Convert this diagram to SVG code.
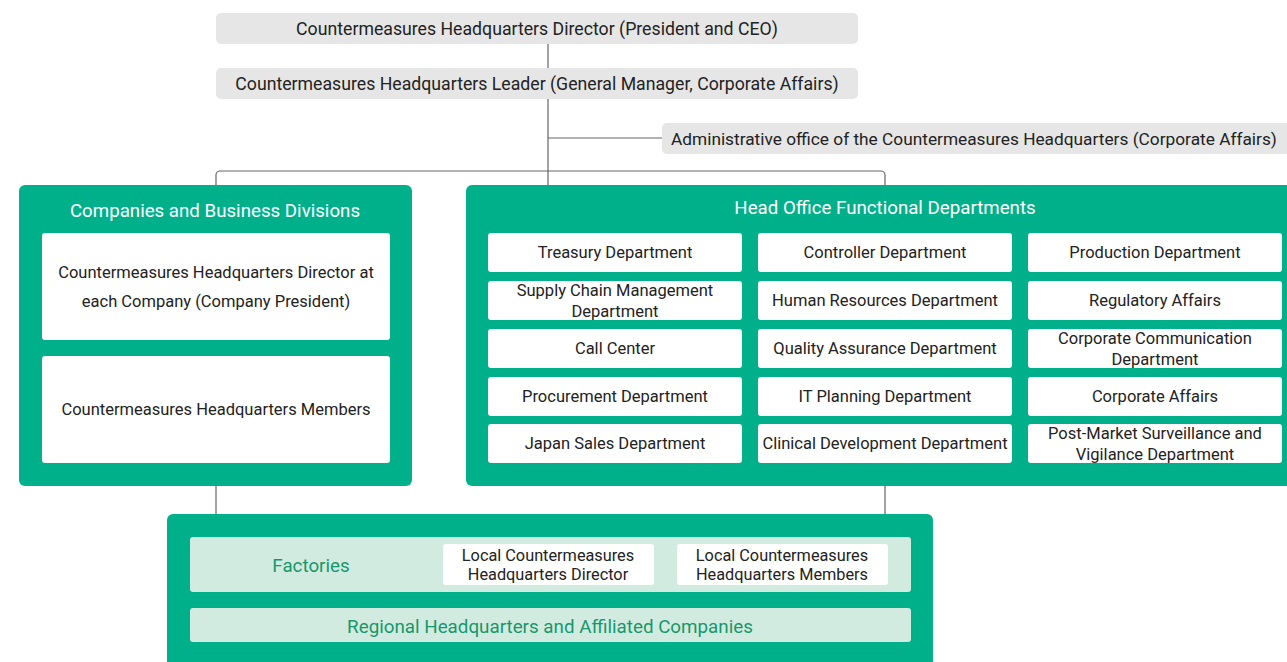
<svg xmlns="http://www.w3.org/2000/svg" width="1287" height="662" viewBox="0 0 1287 662">
<style>
text{font-family:Roboto,"Liberation Sans",sans-serif;text-anchor:middle;dominant-baseline:central}
.g{fill:#e6e6e6}
.gt{font-size:17.7px;fill:#222}
.c{fill:#00b08b}
.w{fill:#fff}
.wt{font-size:18.7px;fill:#fff}
.t{font-size:16.5px;fill:#222}
.t2{font-size:16.3px;fill:#222}
.lg{fill:#d2ebe0}
.gr{font-size:18.8px;fill:#15986c}
.ln{fill:none;stroke:#666;stroke-width:1.2}
</style>
<g id="connectors">
<path class="ln" d="M548 44V185"/>
<path class="ln" d="M548 138H662"/>
<path class="ln" d="M216 185V175a4 4 0 0 1 4-4H881a4 4 0 0 1 4 4V185"/>
<path class="ln" d="M216 486V514"/>
<path class="ln" d="M885 486V514"/>
</g>
<g id="director">
<rect class="g" x="216" y="13" width="642" height="31" rx="5"/>
<text class="gt" x="537" y="29">Countermeasures Headquarters Director (President and CEO)</text>
</g>
<g id="leader">
<rect class="g" x="216" y="68" width="642" height="31" rx="5"/>
<text class="gt" x="537" y="84">Countermeasures Headquarters Leader (General Manager, Corporate Affairs)</text>
</g>
<g id="admin">
<rect class="g" x="662" y="123" width="640" height="31" rx="5"/>
<text class="gt" x="671" y="139" style="text-anchor:start;font-size:17.3px">Administrative office of the Countermeasures Headquarters (Corporate Affairs)</text>
</g>
<g id="companies">
<rect class="c" x="19" y="185" width="393" height="301" rx="6"/>
<text class="wt" x="215" y="211">Companies and Business Divisions</text>
<rect class="w" x="42" y="233" width="348" height="107" rx="3"/>
<text class="t" x="216" y="272">Countermeasures Headquarters Director at</text>
<text class="t" x="216" y="301">each Company (Company President)</text>
<rect class="w" x="42" y="356" width="348" height="107" rx="3"/>
<text class="t" x="216" y="409">Countermeasures Headquarters Members</text>
</g>
<g id="headoffice">
<rect class="c" x="466" y="185" width="840" height="301" rx="6"/>
<text class="wt" x="885" y="208">Head Office Functional Departments</text>
<g id="dept-grid">
<rect class="w" x="488" y="233" width="254" height="39" rx="3"/>
<rect class="w" x="758" y="233" width="254" height="39" rx="3"/>
<rect class="w" x="1028" y="233" width="254" height="39" rx="3"/>
<rect class="w" x="488" y="281" width="254" height="39" rx="3"/>
<rect class="w" x="758" y="281" width="254" height="39" rx="3"/>
<rect class="w" x="1028" y="281" width="254" height="39" rx="3"/>
<rect class="w" x="488" y="329" width="254" height="39" rx="3"/>
<rect class="w" x="758" y="329" width="254" height="39" rx="3"/>
<rect class="w" x="1028" y="329" width="254" height="39" rx="3"/>
<rect class="w" x="488" y="377" width="254" height="39" rx="3"/>
<rect class="w" x="758" y="377" width="254" height="39" rx="3"/>
<rect class="w" x="1028" y="377" width="254" height="39" rx="3"/>
<rect class="w" x="488" y="424" width="254" height="39" rx="3"/>
<rect class="w" x="758" y="424" width="254" height="39" rx="3"/>
<rect class="w" x="1028" y="424" width="254" height="39" rx="3"/>
<text class="t" x="615" y="252">Treasury Department</text>
<text class="t" x="885" y="252">Controller Department</text>
<text class="t" x="1155" y="252">Production Department</text>
<text class="t" x="615" y="290">Supply Chain Management</text>
<text class="t" x="615" y="311">Department</text>
<text class="t" x="885" y="300">Human Resources Department</text>
<text class="t" x="1155" y="300">Regulatory Affairs</text>
<text class="t" x="615" y="348">Call Center</text>
<text class="t" x="885" y="348">Quality Assurance Department</text>
<text class="t" x="1155" y="338">Corporate Communication</text>
<text class="t" x="1155" y="359">Department</text>
<text class="t" x="615" y="396">Procurement Department</text>
<text class="t" x="885" y="396">IT Planning Department</text>
<text class="t" x="1155" y="396">Corporate Affairs</text>
<text class="t" x="615" y="443">Japan Sales Department</text>
<text class="t" x="885" y="443">Clinical Development Department</text>
<text class="t" x="1155" y="433">Post-Market Surveillance and</text>
<text class="t" x="1155" y="454">Vigilance Department</text>
</g>
</g>
<g id="local">
<rect class="c" x="167" y="514" width="766" height="160" rx="6"/>
<g id="factories">
<rect class="lg" x="190" y="537" width="721" height="55" rx="3"/>
<text class="gr" x="311" y="566">Factories</text>
<rect class="w" x="443" y="544" width="211" height="41" rx="3"/>
<text class="t2" x="548" y="555">Local Countermeasures</text>
<text class="t2" x="548" y="574">Headquarters Director</text>
<rect class="w" x="677" y="544" width="211" height="41" rx="3"/>
<text class="t2" x="782" y="555">Local Countermeasures</text>
<text class="t2" x="782" y="574">Headquarters Members</text>
</g>
<g id="regional">
<rect class="lg" x="190" y="608" width="721" height="34" rx="3"/>
<text class="gr" x="550" y="627">Regional Headquarters and Affiliated Companies</text>
</g>
</g>
</svg>
